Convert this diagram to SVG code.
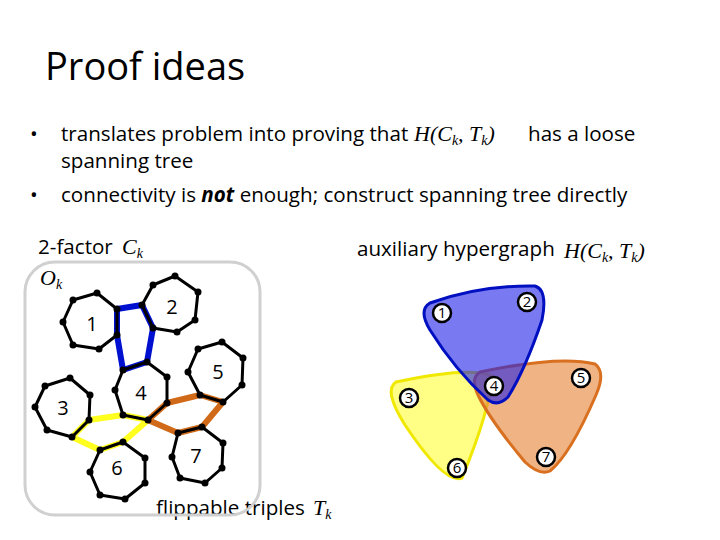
<svg xmlns="http://www.w3.org/2000/svg" width="720" height="540" viewBox="0 0 720 540">
<style>
.t{font-family:"Open Sans","Liberation Sans",sans-serif;fill:#000}
.m{font-family:"Liberation Serif",serif;font-style:italic;fill:#000}
.cy{fill:none;stroke:#000;stroke-width:3;stroke-linejoin:round}
.b{fill:none;stroke:#0010d0;stroke-width:6;stroke-linejoin:round}
.y{fill:none;stroke:#ffff20;stroke-width:6;stroke-linejoin:round}
.o{fill:none;stroke:#d06a18;stroke-width:6;stroke-linejoin:round}
.d{fill:#000}
.n{font-family:"Open Sans","Liberation Sans",sans-serif;font-size:20px;text-anchor:middle}
.hc{fill:#fff;stroke:#000;stroke-width:2.5}
.hn{font-family:"Open Sans","Liberation Sans",sans-serif;font-size:15px;text-anchor:middle}
</style>
<rect width="720" height="540" fill="#fff"/>
<text class="t" x="45" y="80" font-size="38">Proof ideas</text>
<g font-size="20.6">
<text class="t" x="30" y="141">•</text>
<text class="t" x="61" y="141">translates problem into proving that</text>
<text class="m" x="414" y="141" font-size="22">H(C<tspan font-size="14" dy="4">k</tspan><tspan dy="-4">, T</tspan><tspan font-size="14" dy="4">k</tspan><tspan dy="-4">)</tspan></text>
<text class="t" x="528" y="141">has a loose</text>
<text class="t" x="61" y="168">spanning tree</text>
<text class="t" x="30" y="202">•</text>
<text class="t" x="61" y="202">connectivity is <tspan font-weight="bold" font-style="italic">not</tspan> enough; construct spanning tree directly</text>
<text class="t" x="38" y="254">2-factor</text>
<text class="m" x="122" y="254" font-size="22">C<tspan font-size="14" dy="4">k</tspan></text>
<text class="t" x="357" y="256">auxiliary hypergraph</text>
<text class="m" x="564" y="258" font-size="22">H(C<tspan font-size="14" dy="4">k</tspan><tspan dy="-4">, T</tspan><tspan font-size="14" dy="4">k</tspan><tspan dy="-4">)</tspan></text>
<text class="t" x="156" y="515">flippable triples</text>
<text class="m" x="313" y="515" font-size="22">T<tspan font-size="14" dy="4">k</tspan></text>
</g>
<rect x="25" y="262" width="235" height="253" rx="30" fill="none" stroke="#d0d0d0" stroke-width="3"/>
<text class="m" x="40" y="285" font-size="22">O<tspan font-size="14" dy="4">k</tspan></text>
<g id="connectors">
<polyline class="b" points="117,335 117,309 142,305 153,328 147,362 123,370 117,335"/>
<polyline class="y" points="89,420 123,415 148,420"/>
<polyline class="y" points="89,420 72,437 100,450 123,442 148,420"/>
<polyline class="o" points="148,420 167,403 200,395 223,402 202,427 178,433 148,420"/>
</g>
<g id="c1"><polygon class="cy" points="97,293 117,309 117,335 99,349 73,345 63,322 73,300"/><g class="d"><circle cx="97" cy="293" r="3.5"/><circle cx="117" cy="309" r="3.5"/><circle cx="117" cy="335" r="3.5"/><circle cx="99" cy="349" r="3.5"/><circle cx="73" cy="345" r="3.5"/><circle cx="63" cy="322" r="3.5"/><circle cx="73" cy="300" r="3.5"/></g><text class="n" x="92" y="331">1</text></g>
<g id="c2"><polygon class="cy" points="175,276 198,292 195,320 177,332 153,328 142,305 153,285"/><g class="d"><circle cx="175" cy="276" r="3.5"/><circle cx="198" cy="292" r="3.5"/><circle cx="195" cy="320" r="3.5"/><circle cx="177" cy="332" r="3.5"/><circle cx="153" cy="328" r="3.5"/><circle cx="142" cy="305" r="3.5"/><circle cx="153" cy="285" r="3.5"/></g><text class="n" x="172" y="314">2</text></g>
<g id="c4"><polygon class="cy" points="123,370 147,362 167,377 167,403 148,420 123,415 115,390"/><g class="d"><circle cx="123" cy="370" r="3.5"/><circle cx="147" cy="362" r="3.5"/><circle cx="167" cy="377" r="3.5"/><circle cx="167" cy="403" r="3.5"/><circle cx="148" cy="420" r="3.5"/><circle cx="123" cy="415" r="3.5"/><circle cx="115" cy="390" r="3.5"/></g><text class="n" x="141" y="400">4</text></g>
<g id="c3"><polygon class="cy" points="70,378 90,395 89,420 72,437 47,430 35,407 45,386"/><g class="d"><circle cx="70" cy="378" r="3.5"/><circle cx="90" cy="395" r="3.5"/><circle cx="89" cy="420" r="3.5"/><circle cx="72" cy="437" r="3.5"/><circle cx="47" cy="430" r="3.5"/><circle cx="35" cy="407" r="3.5"/><circle cx="45" cy="386" r="3.5"/></g><text class="n" x="63" y="415">3</text></g>
<g id="c5"><polygon class="cy" points="222,342 243,358 242,385 223,402 200,395 188,372 198,349"/><g class="d"><circle cx="222" cy="342" r="3.5"/><circle cx="243" cy="358" r="3.5"/><circle cx="242" cy="385" r="3.5"/><circle cx="223" cy="402" r="3.5"/><circle cx="200" cy="395" r="3.5"/><circle cx="188" cy="372" r="3.5"/><circle cx="198" cy="349" r="3.5"/></g><text class="n" x="218" y="379">5</text></g>
<g id="c7"><polygon class="cy" points="202,427 223,443 222,468 205,483 180,478 172,457 178,433"/><g class="d"><circle cx="202" cy="427" r="3.5"/><circle cx="223" cy="443" r="3.5"/><circle cx="222" cy="468" r="3.5"/><circle cx="205" cy="483" r="3.5"/><circle cx="180" cy="478" r="3.5"/><circle cx="172" cy="457" r="3.5"/><circle cx="178" cy="433" r="3.5"/></g><text class="n" x="196" y="463">7</text></g>
<g id="c6"><polygon class="cy" points="123,442 145,458 145,483 125,499 100,495 90,472 100,450"/><g class="d"><circle cx="123" cy="442" r="3.5"/><circle cx="145" cy="458" r="3.5"/><circle cx="145" cy="483" r="3.5"/><circle cx="125" cy="499" r="3.5"/><circle cx="100" cy="495" r="3.5"/><circle cx="90" cy="472" r="3.5"/><circle cx="100" cy="450" r="3.5"/></g><text class="n" x="117" y="475">6</text></g>
<g id="hypergraph">
<path d="M396,382 Q470,366 492,376 Q490,410 462,478 Q445,485 405,425 Q383,390 396,382 Z" fill="#ffff70" fill-opacity="0.85" stroke="#f0e800" stroke-width="3"/>
<path d="M480,372 Q560,355 595,364 Q606,372 596,395 Q570,455 550,471 Q540,476 525,462 Q490,420 478,395 Q470,378 480,372 Z" fill="#e88a40" fill-opacity="0.65" stroke="#d87020" stroke-width="3"/>
<path d="M430,303 Q480,285 535,286 Q548,290 542,320 Q525,370 508,397 Q498,407 488,400 Q455,370 430,330 Q418,310 430,303 Z" fill="#2020e8" fill-opacity="0.6" stroke="#0010c0" stroke-width="3"/>
</g>
<g id="h1"><circle class="hc" cx="442" cy="313" r="9"/><text class="hn" x="442" y="318">1</text></g>
<g id="h2"><circle class="hc" cx="527" cy="302" r="9"/><text class="hn" x="527" y="307">2</text></g>
<g id="h3"><circle class="hc" cx="409" cy="398" r="9"/><text class="hn" x="409" y="403">3</text></g>
<g id="h4"><circle class="hc" cx="494" cy="386" r="9"/><text class="hn" x="494" y="391">4</text></g>
<g id="h5"><circle class="hc" cx="581" cy="378" r="9"/><text class="hn" x="581" y="383">5</text></g>
<g id="h6"><circle class="hc" cx="457" cy="468" r="9"/><text class="hn" x="457" y="473">6</text></g>
<g id="h7"><circle class="hc" cx="546" cy="457" r="9"/><text class="hn" x="546" y="462">7</text></g>
</svg>
